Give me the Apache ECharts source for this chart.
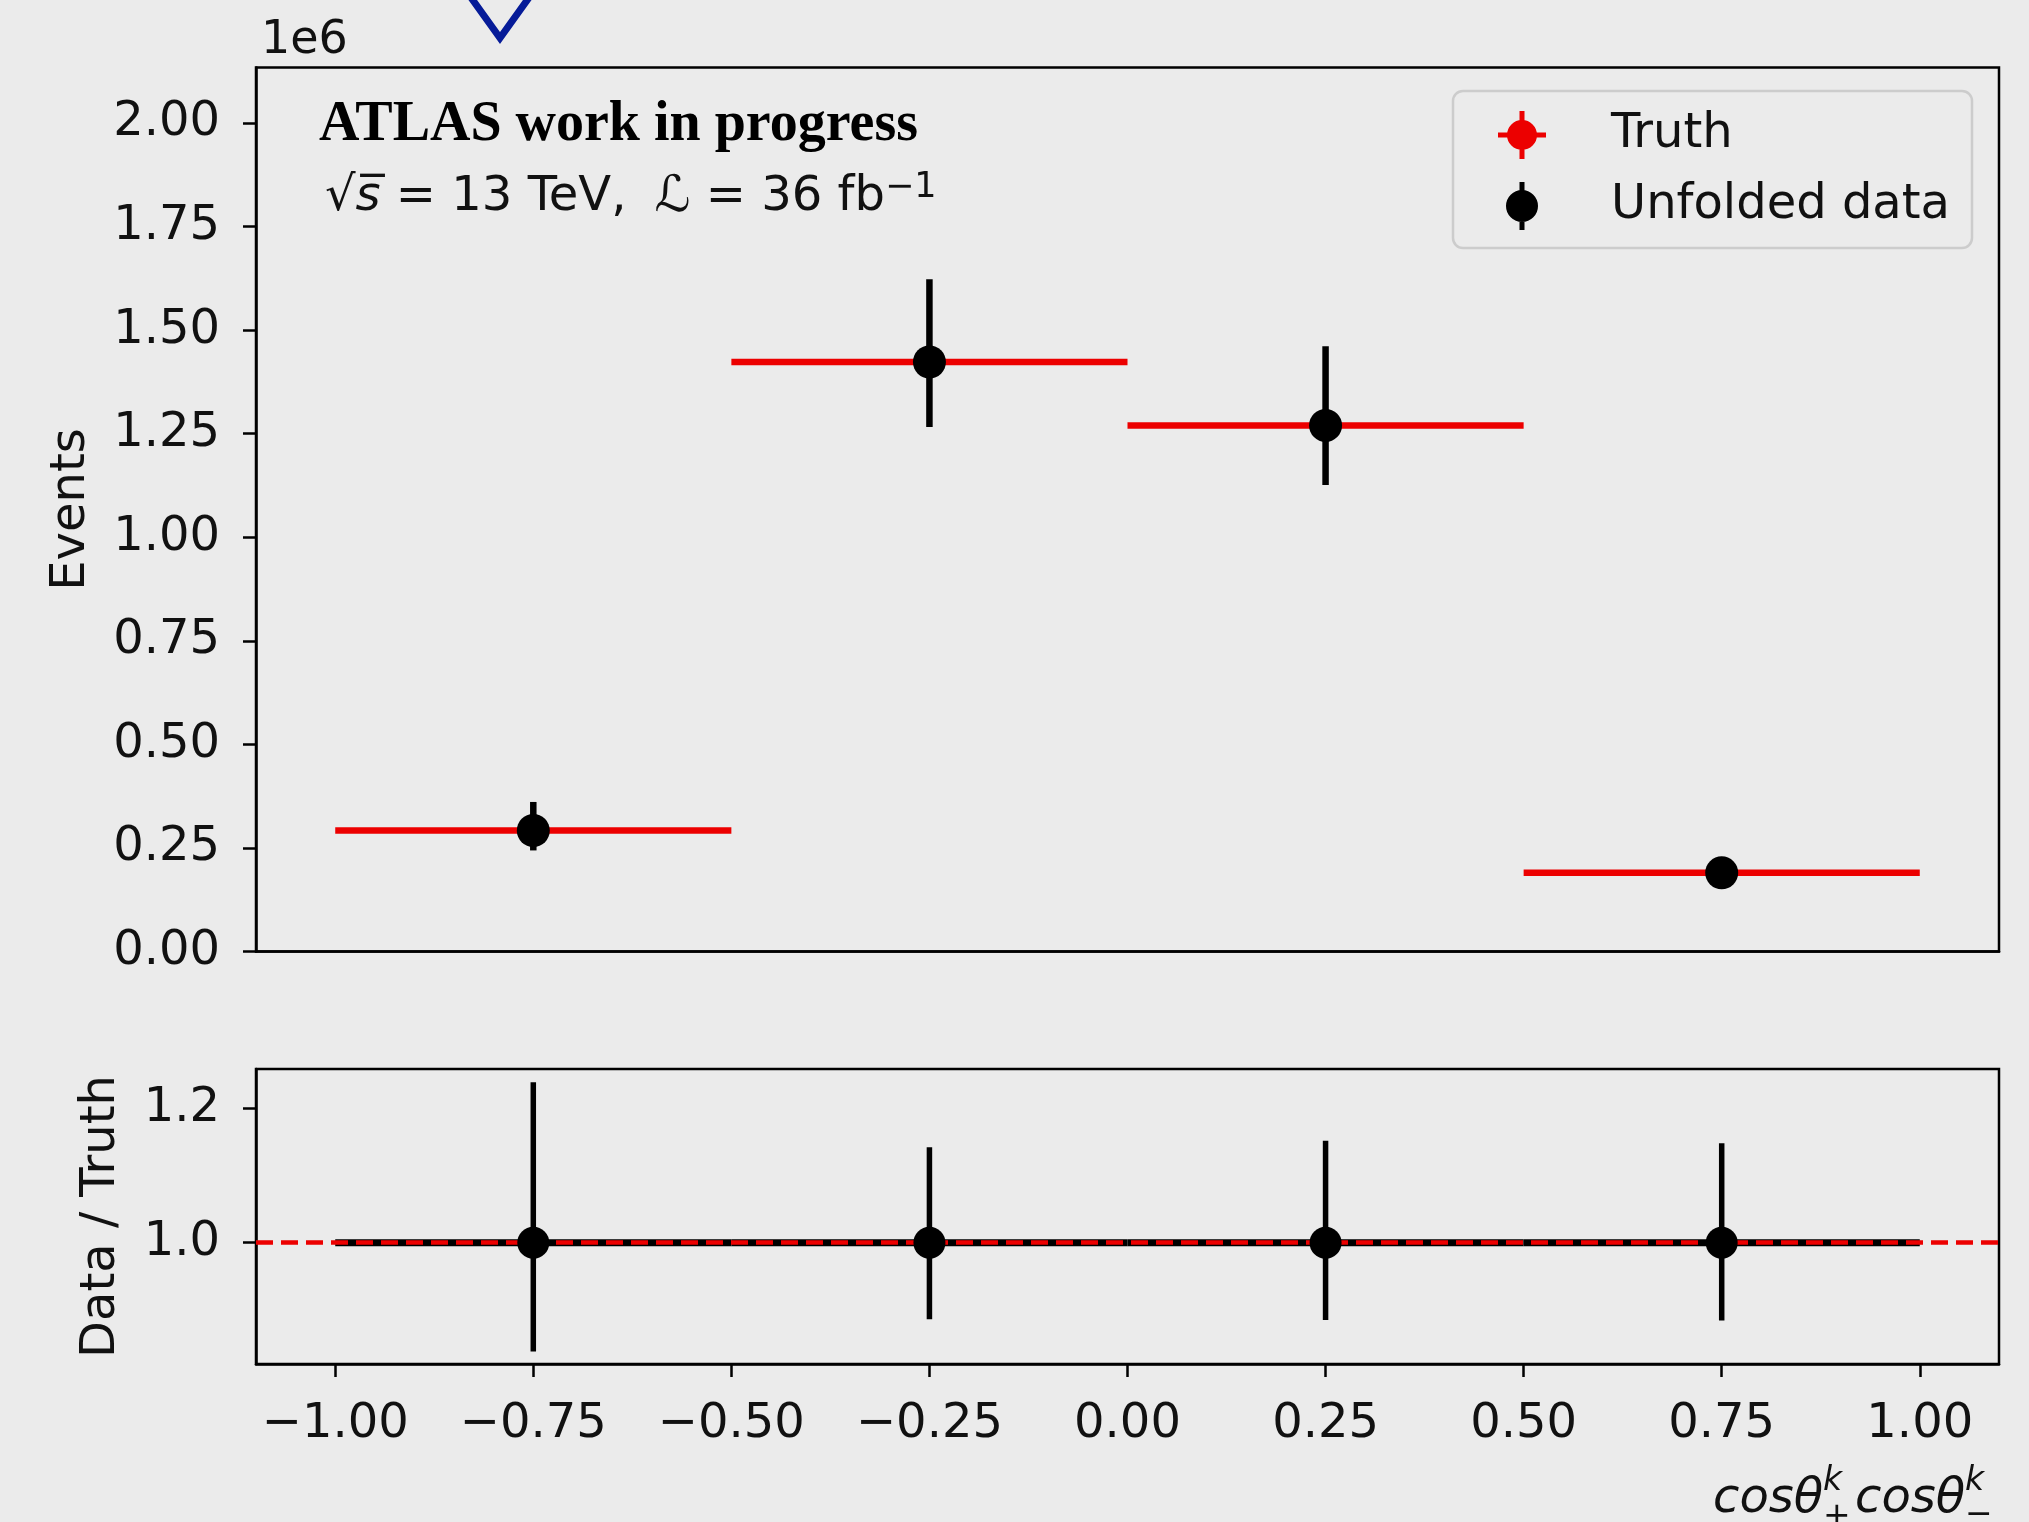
<!DOCTYPE html>
<html>
<head>
<meta charset="utf-8">
<title>Unfolded data vs Truth</title>
<script src="https://cdn.jsdelivr.net/npm/echarts@6.0.0/dist/echarts.min.js"></script>
<style>
  html, body { margin: 0; padding: 0; background: #ebebeb; }
  #chart { width: 2029px; height: 1522px; }
</style>
</head>
<body>
<div id="chart"></div>
<script>
// bins in cosθ+ cosθ-
const binLow = [-1.0, -0.5, 0.0, 0.5];
const binHigh = [-0.5, 0.0, 0.5, 1.0];
const binCenter = [-0.75, -0.25, 0.25, 0.75];

// events (units of 1e6)
const truthEvents = [0.292, 1.423, 1.270, 0.190];
const dataEvents = [0.292, 1.423, 1.270, 0.190];
const dataEventsUp = [0.361, 1.623, 1.461, 0.218];
const dataEventsDown = [0.244, 1.266, 1.126, 0.168];

// data / truth
const ratioTruth = [1.0, 1.0, 1.0, 1.0];
const ratioData = [1.0, 1.0, 1.0, 1.0];
const ratioUp = [1.239, 1.142, 1.152, 1.148];
const ratioDown = [0.838, 0.886, 0.885, 0.884];

// tick labels
const xTicks = [-1.0, -0.75, -0.5, -0.25, 0.0, 0.25, 0.5, 0.75, 1.0];
const eventTicks = [0, 0.25, 0.5, 0.75, 1.0, 1.25, 1.5, 1.75, 2.0];
const ratioTicks = [1.0, 1.2];

const FONT = 'DejaVu Sans';
const RED = '#ec0000';
const INK = '#111111';

// horizontal bin line  [lo, hi, value]
function hLine(color, width) {
  return function (params, api) {
    const a = api.coord([api.value(0), api.value(2)]);
    const b = api.coord([api.value(1), api.value(2)]);
    return {
      type: 'line',
      shape: { x1: a[0], y1: a[1], x2: b[0], y2: b[1] },
      style: { stroke: color, lineWidth: width }
    };
  };
}
// vertical error bar  [x, lo, hi]
function vBar(width) {
  return function (params, api) {
    const a = api.coord([api.value(0), api.value(1)]);
    const b = api.coord([api.value(0), api.value(2)]);
    return {
      type: 'line',
      shape: { x1: a[0], y1: a[1], x2: b[0], y2: b[1] },
      style: { stroke: '#000', lineWidth: width }
    };
  };
}

const truthBins = binLow.map((lo, i) => [lo, binHigh[i], truthEvents[i]]);
const ratioBins = binLow.map((lo, i) => [lo, binHigh[i], ratioTruth[i]]);
const dataPoints = binCenter.map((x, i) => [x, dataEvents[i]]);
const dataErrors = binCenter.map((x, i) => [x, dataEventsDown[i], dataEventsUp[i]]);
const ratioPoints = binCenter.map((x, i) => [x, ratioData[i]]);
const ratioErrors = binCenter.map((x, i) => [x, ratioDown[i], ratioUp[i]]);

const fmtX = v => (v < 0 ? '\u2212' : '') + Math.abs(v).toFixed(2);

const truthIcon = 'path://M9,24a15,15 0 1,1 30,0a15,15 0 1,1 -30,0Z M21.5,0h5v48h-5Z M0,21.5h48v5h-48Z';
const dataIcon = 'path://M1,24a16,16 0 1,1 32,0a16,16 0 1,1 -32,0Z M14.5,0h5v48h-5Z';

const axisLineStyle = { color: '#000', width: 2.5 };
const labelStyle = { color: INK, fontFamily: FONT, fontSize: 48 };

const chart = echarts.init(document.getElementById('chart'));

const option = {
  backgroundColor: '#ebebeb',
  animation: false,
  grid: [
    { left: 256, top: 67.5, width: 1743, height: 884, show: true, borderColor: '#000', borderWidth: 2.5 },
    { left: 256, top: 1069, width: 1743, height: 295, show: true, borderColor: '#000', borderWidth: 2.5 }
  ],
  xAxis: [
    {
      type: 'value', gridIndex: 0, min: -1.1, max: 1.1,
      axisLine: { show: true, onZero: false, lineStyle: axisLineStyle },
      axisTick: { show: false }, axisLabel: { show: false }, splitLine: { show: false }
    },
    {
      type: 'value', gridIndex: 1, min: -1.1, max: 1.1,
      axisLine: { show: true, onZero: false, lineStyle: axisLineStyle },
      axisTick: { show: true, length: 13, lineStyle: axisLineStyle, customValues: xTicks },
      axisLabel: Object.assign({ customValues: xTicks, margin: 37, formatter: fmtX }, labelStyle),
      splitLine: { show: false }
    }
  ],
  yAxis: [
    {
      type: 'value', gridIndex: 0, min: 0, max: 2.134,
      name: 'Events', nameLocation: 'middle', nameRotate: 90, nameGap: 160,
      nameTextStyle: labelStyle,
      axisLine: { show: true, onZero: false, lineStyle: axisLineStyle },
      axisTick: { show: true, length: 13, lineStyle: axisLineStyle, customValues: eventTicks },
      axisLabel: Object.assign({ customValues: eventTicks, margin: 36, padding: [8, 0, 0, 0], formatter: v => v.toFixed(2) }, labelStyle),
      splitLine: { show: false }
    },
    {
      type: 'value', gridIndex: 1, min: 0.8194, max: 1.2587,
      name: 'Data / Truth', nameLocation: 'middle', nameRotate: 90, nameGap: 130,
      nameTextStyle: labelStyle,
      axisLine: { show: true, onZero: false, lineStyle: axisLineStyle },
      axisTick: { show: true, length: 13, lineStyle: axisLineStyle, customValues: ratioTicks },
      axisLabel: Object.assign({ customValues: ratioTicks, margin: 36, padding: [8, 0, 0, 0], formatter: v => v.toFixed(1) }, labelStyle),
      splitLine: { show: false }
    }
  ],
  legend: {
    left: 1453, top: 91, orient: 'vertical',
    padding: [19, 22, 17, 45],
    itemGap: 21, itemWidth: 48, itemHeight: 48,
    backgroundColor: '#ebebeb', borderColor: '#cccccc', borderWidth: 2.5, borderRadius: 10,
    selectedMode: false,
    textStyle: { color: INK, fontFamily: FONT, fontSize: 48, lineHeight: 50, padding: [0, 0, 0, 60] },
    data: [
      { name: 'Truth', icon: truthIcon, itemStyle: { color: RED } },
      { name: 'Unfolded data', icon: dataIcon, itemStyle: { color: '#000' } }
    ]
  },
  series: [
    // upper panel
    {
      name: 'Truth', type: 'custom', xAxisIndex: 0, yAxisIndex: 0, z: 2,
      itemStyle: { color: RED },
      renderItem: hLine(RED, 6.5),
      encode: { x: [0, 1], y: 2 },
      data: truthBins
    },
    {
      name: 'Unfolded data', type: 'custom', xAxisIndex: 0, yAxisIndex: 0, z: 3,
      itemStyle: { color: '#000' },
      renderItem: vBar(6.5),
      encode: { x: 0, y: [1, 2] },
      data: dataErrors
    },
    {
      name: 'Unfolded data', type: 'scatter', xAxisIndex: 0, yAxisIndex: 0, z: 10,
      symbol: 'circle', symbolSize: 33,
      itemStyle: { color: '#000', opacity: 1 },
      data: dataPoints
    },
    // lower panel
    {
      name: 'ratio truth', type: 'custom', xAxisIndex: 1, yAxisIndex: 1, z: 2,
      renderItem: hLine('#000', 7),
      encode: { x: [0, 1], y: 2 },
      data: ratioBins,
      markLine: {
        silent: true, symbol: ['none', 'none'], z: 4,
        label: { show: false },
        lineStyle: { color: RED, width: 4.5, type: [17, 8] },
        data: [{ yAxis: 1 }]
      }
    },
    {
      name: 'ratio error', type: 'custom', xAxisIndex: 1, yAxisIndex: 1, z: 6,
      renderItem: vBar(5.5),
      encode: { x: 0, y: [1, 2] },
      data: ratioErrors
    },
    {
      name: 'ratio data', type: 'scatter', xAxisIndex: 1, yAxisIndex: 1, z: 10,
      symbol: 'circle', symbolSize: 32,
      itemStyle: { color: '#000', opacity: 1 },
      data: ratioPoints
    }
  ],
  graphic: [
    // offset text above the axis
    { type: 'text', x: 261, y: 41, z: 20,
      style: { text: '1e6', font: '46px "DejaVu Sans"', fill: INK, align: 'left', verticalAlign: 'middle' } },
    { type: 'text', x: 319, y: 126, z: 20,
      style: { text: 'ATLAS work in progress', font: 'bold 56px "Liberation Serif"', fill: '#000', align: 'left', verticalAlign: 'middle' } },
    { type: 'text', x: 325, y: 198, z: 20,
      style: {
        text: '{a|\u221a}{s|s\u0305}{a| = 13 TeV,}{l|\u2112}{a| = 36 fb}{p|\u22121}',
        align: 'left', verticalAlign: 'middle',
        rich: {
          a: { fontFamily: FONT, fontSize: 48, fill: INK, lineHeight: 56 },
          s: { fontFamily: FONT, fontSize: 48, fontStyle: 'italic', fill: INK, lineHeight: 56 },
          l: { fontFamily: FONT, fontSize: 50, fontStyle: 'italic', fill: INK, lineHeight: 56, padding: [0, 0, 0, 28] },
          p: { fontFamily: FONT, fontSize: 35, fill: INK, lineHeight: 34, verticalAlign: 'top' }
        }
      } },
    // x axis title  cosθ+^k cosθ-^k
    { type: 'text', x: 1713, y: 1500, z: 20,
      style: { text: 'cos\u03b8', font: 'italic 48px "DejaVu Sans"', fill: INK, align: 'left', verticalAlign: 'middle' } },
    { type: 'text', x: 1823, y: 1481, z: 20,
      style: { text: 'k', font: 'italic 33px "DejaVu Sans"', fill: INK, align: 'left', verticalAlign: 'middle' } },
    { type: 'text', x: 1823, y: 1517, z: 20,
      style: { text: '+', font: '33px "DejaVu Sans"', fill: INK, align: 'left', verticalAlign: 'middle' } },
    { type: 'text', x: 1855, y: 1500, z: 20,
      style: { text: 'cos\u03b8', font: 'italic 48px "DejaVu Sans"', fill: INK, align: 'left', verticalAlign: 'middle' } },
    { type: 'text', x: 1965, y: 1481, z: 20,
      style: { text: 'k', font: 'italic 33px "DejaVu Sans"', fill: INK, align: 'left', verticalAlign: 'middle' } },
    { type: 'text', x: 1965, y: 1515, z: 20,
      style: { text: '\u2212', font: '33px "DejaVu Sans"', fill: INK, align: 'left', verticalAlign: 'middle' } },
    // blue marker cut off at the top edge
    { type: 'polyline', z: 20,
      shape: { points: [[467, -8], [500, 38], [533, -8]] },
      style: { stroke: '#061b98', lineWidth: 7, fill: null, lineJoin: 'miter' } }
  ]
};

chart.setOption(option);
</script>
</body>
</html>
